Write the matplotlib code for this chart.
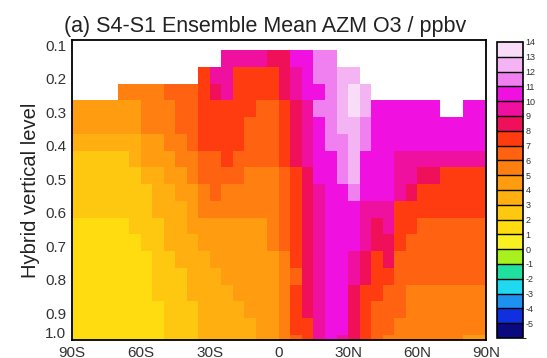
import numpy as np
import matplotlib
matplotlib.use("Agg")
from matplotlib import pyplot as plt
from matplotlib.colors import ListedColormap, BoundaryNorm

plt.rcParams['font.family'] = ['Liberation Sans', 'DejaVu Sans']

# latitude cell edges (5 deg) and hybrid level edges
lat_edges = np.arange(-90, 91, 5)
lev_edges = [0.085, 0.115, 0.165, 0.215, 0.265, 0.315, 0.365, 0.415, 0.465, 0.515,
             0.565, 0.615, 0.665, 0.715, 0.765, 0.815, 0.865, 0.915, 0.965, 0.98]

N = None
# S4-S1 ozone difference (ppbv), one row per level from the top, 90S -> 90N
o3_diff = [
    [N] * 36,
    [N] * 13 + [9, 9, 9, 9, 8, 8, 10, 10, 11, 11] + [N] * 13,
    [N] * 11 + [7, 9, 9, 7, 7, 7, 7, 8, 9, 10, 11, 11, 12, 12] + [N] * 11,
    [N] * 4 + [5, 5, 5, 5, 6, 6, 6, 7, 8, 9, 7, 7, 7, 7, 8, 9, 10, 10, 11, 12, 13, 12] + [N] * 10,
    [4, 4, 4, 4, 4, 4, 5, 5, 5, 6, 6, 7, 7, 7, 7, 7, 6, 6, 7, 8, 9, 11, 11, 12, 13, 12,
     10, 10, 10, 10, 10, 10, N, N, 10, 10],
    [4, 4, 4, 4, 4, 4, 5, 5, 5, 6, 6, 7, 7, 7, 7, 6, 6, 6, 7, 8, 9, 10, 11, 12, 12, 11,
     10, 10, 10, 10, 10, 10, 10, 10, 10, 10],
    [3, 3, 3, 3, 3, 3, 4, 4, 5, 5, 6, 7, 7, 7, 7, 6, 6, 6, 7, 8, 9, 10, 11, 11, 12, 11,
     10, 10, 10, 10, 10, 10, 10, 10, 10, 10],
    [2, 2, 2, 2, 2, 3, 4, 4, 4, 5, 5, 6, 6, 7, 6, 6, 6, 6, 7, 8, 9, 10, 10, 11, 12, 10,
     10, 10, 9, 9, 9, 9, 9, 9, 9, 9],
    [2, 2, 2, 2, 2, 2, 3, 3, 4, 4, 5, 6, 6, 6, 6, 5, 5, 5, 6, 7, 8, 10, 10, 11, 12, 10,
     10, 10, 9, 9, 8, 8, 7, 7, 7, 7],
    [2, 2, 2, 2, 2, 2, 2, 3, 3, 4, 4, 5, 6, 5, 5, 5, 5, 5, 6, 7, 8, 9, 10, 10, 11, 10,
     10, 10, 9, 8, 7, 7, 7, 7, 7, 7],
    [2, 2, 2, 2, 2, 2, 2, 3, 3, 3, 4, 5, 5, 5, 5, 5, 5, 5, 6, 7, 8, 9, 10, 10, 10, 9,
     9, 9, 7, 7, 7, 7, 7, 7, 7, 7],
    [1, 1, 1, 1, 1, 2, 2, 2, 3, 3, 4, 4, 4, 4, 4, 4, 4, 5, 6, 7, 8, 9, 10, 10, 10, 9,
     8, 9, 7, 7, 6, 6, 6, 6, 6, 6],
    [1, 1, 1, 1, 1, 1, 2, 2, 3, 3, 3, 4, 4, 4, 4, 4, 4, 5, 6, 7, 8, 9, 10, 10, 10, 9,
     8, 8, 7, 6, 6, 6, 6, 6, 6, 6],
    [1, 1, 1, 1, 1, 1, 1, 2, 2, 3, 3, 3, 4, 4, 4, 4, 4, 4, 5, 7, 8, 9, 10, 10, 9, 8,
     7, 8, 6, 6, 6, 6, 6, 6, 6, 6],
    [1, 1, 1, 1, 1, 1, 1, 2, 2, 2, 3, 3, 3, 4, 4, 4, 4, 4, 5, 6, 8, 9, 10, 10, 9, 8,
     7, 7, 6, 6, 6, 6, 6, 6, 6, 6],
    [1, 1, 1, 1, 1, 1, 1, 2, 2, 2, 3, 3, 3, 3, 4, 4, 4, 4, 5, 7, 8, 9, 10, 10, 8, 7,
     7, 6, 6, 5, 5, 5, 5, 5, 5, 5],
    [1, 1, 1, 1, 1, 1, 1, 1, 2, 2, 2, 3, 3, 3, 3, 4, 4, 4, 5, 7, 8, 9, 10, 10, 8, 7,
     6, 6, 6, 5, 5, 5, 5, 5, 5, 5],
    [1, 1, 1, 1, 1, 1, 1, 1, 2, 2, 2, 3, 3, 3, 3, 3, 4, 4, 5, 7, 7, 9, 10, 10, 8, 7,
     6, 6, 5, 5, 5, 5, 5, 5, 5, 5],
    [1, 1, 1, 1, 1, 1, 1, 1, 2, 2, 2, 3, 3, 3, 3, 3, 4, 4, 5, 6, 7, 9, 10, 9, 8, 7,
     6, 5, 5, 5, 5, 5, 5, 5, 4, 4],
]

levels = np.arange(-6, 15)
colors = ['#0a0a80', '#1030e0', '#1e90f0', '#20d8f0', '#20e0a0', '#a8f020',
          '#f8f020', '#ffdc10', '#ffc810', '#ffb010', '#ff9c10', '#ff8010',
          '#ff6210', '#ff3c10', '#f0105a', '#f010a0', '#f010e0', '#f080f0',
          '#f4b4f4', '#f8dcf8']
cbar_labels = [str(v) for v in range(-5, 15)]

xtick_pos = [-90, -60, -30, 0, 30, 60, 90]
xtick_lab = ['90S', '60S', '30S', '0', '30N', '60N', '90N']
ytick_pos = [0.1, 0.2, 0.3, 0.4, 0.5, 0.6, 0.7, 0.8, 0.9, 0.957]
ytick_lab = ['0.1', '0.2', '0.3', '0.4', '0.5', '0.6', '0.7', '0.8', '0.9', '1.0']

z = np.array([[np.nan if v is None else v for v in row] for row in o3_diff], dtype=float)
cmap = ListedColormap(colors)
norm = BoundaryNorm(levels, cmap.N)

fig = plt.figure(figsize=(5.47, 3.58), dpi=100)
ax = fig.add_axes([0.1316, 0.0503, 0.7569, 0.838])
mesh = ax.pcolormesh(lat_edges, lev_edges, np.ma.masked_invalid(z), cmap=cmap, norm=norm)
ax.set_xlim(-90, 90)
ax.set_ylim(0.98, 0.085)
ax.set_xticks(xtick_pos)
ax.set_xticklabels(xtick_lab)
ax.set_yticks(ytick_pos)
ax.set_yticklabels(ytick_lab)
ax.tick_params(axis='x', length=0, labelsize=11, colors='#333333', pad=4)
ax.tick_params(axis='y', length=0, labelsize=11, colors='#333333', pad=4)
for s in ax.spines.values():
    s.set_linewidth(1.3)
ax.set_ylabel('Hybrid vertical level', fontsize=14.5, color='#222222', labelpad=4)
fig.text(0.485, 0.927, '(a) S4-S1 Ensemble Mean AZM O3 / ppbv', fontsize=15.5,
         color='#222222', ha='center', va='center')

cax = fig.add_axes([0.9086, 0.0559, 0.0475, 0.8268])
cb = fig.colorbar(mesh, cax=cax, drawedges=True)
cb.set_ticks(range(-5, 15))
cb.set_ticklabels(cbar_labels)
cb.outline.set_linewidth(1.2)
cb.dividers.set_linewidth(1.0)
cax.tick_params(length=0, labelsize=6.5, colors='#333333', pad=2)

fig.savefig('out.png', dpi=100)
